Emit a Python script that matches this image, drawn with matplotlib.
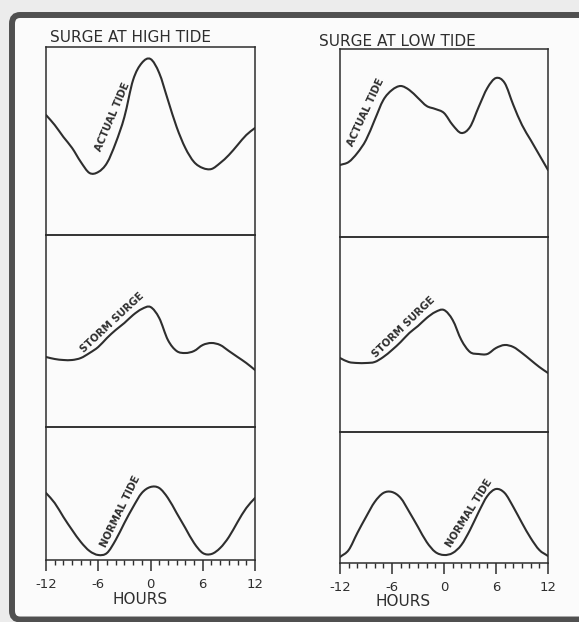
import matplotlib
matplotlib.use("Agg")
import matplotlib.pyplot as plt
import numpy as np
from matplotlib.patches import FancyBboxPatch, PathPatch
from matplotlib.path import Path

# hours relative to the time of peak surge
hours = list(range(-12, 13))

# left column: surge arriving at high tide (relative water level)
high_actual = [120, 110, 98, 87, 73, 62, 63, 72, 92, 118, 155, 172, 176,
               162, 135, 108, 87, 73, 67, 66, 72, 80, 90, 100, 107]
high_surge = [70, 68, 67, 67, 69, 74, 80, 89, 97, 104, 112, 118, 120,
              109, 87, 76, 74, 76, 82, 84, 82, 76, 70, 64, 57]
high_normal = [67, 57, 43, 30, 18, 9, 5, 7, 20, 37, 53, 67, 73,
               72, 62, 47, 32, 17, 7, 6, 12, 23, 38, 52, 62]

# right column: surge arriving at low tide
low_actual = [72, 75, 84, 97, 117, 137, 147, 151, 147, 139, 131, 128, 124,
              112, 104, 110, 130, 149, 159, 154, 132, 112, 97, 82, 67]
low_surge = [74, 70, 69, 69, 70, 75, 82, 90, 99, 106, 114, 120, 122,
             112, 92, 80, 78, 78, 84, 87, 85, 79, 72, 65, 59]
low_normal = [6, 13, 30, 46, 61, 70, 71, 65, 51, 36, 21, 11, 8,
              10, 18, 33, 51, 67, 74, 70, 56, 40, 25, 13, 7]

titles = ["SURGE AT HIGH TIDE", "SURGE AT LOW TIDE"]
tick_hours = [-12, -6, 0, 6, 12]
tick_labels = ["-12", "-6", "0", "6", "12"]

INK = "#2e2e2e"
W, H = 579, 622

plt.rcParams["font.family"] = ["DejaVu Sans"]


def px_box(x0, y0, x1, y1):
    """Pixel box (top-left origin) -> figure fraction rect."""
    return [x0 / W, (H - y1) / H, (x1 - x0) / W, (y1 - y0) / H]


def smooth_path(xs, ys):
    """Catmull-Rom style bezier path through the given points."""
    pts = np.column_stack([xs, ys]).astype(float)
    ext = np.vstack([2 * pts[0] - pts[1], pts, 2 * pts[-1] - pts[-2]])
    verts = [pts[0]]
    codes = [Path.MOVETO]
    for i in range(1, len(ext) - 2):
        p0, p1, p2, p3 = ext[i - 1], ext[i], ext[i + 1], ext[i + 2]
        verts += [p1 + (p2 - p0) / 6, p2 - (p3 - p1) / 6, p2]
        codes += [Path.CURVE4] * 3
    return Path(verts, codes)


def draw_panel(fig, box, values, ytop, label, label_at, angle, bottom=False):
    ax = fig.add_axes(px_box(*box))
    ax.set_facecolor("none")
    ax.set_zorder(2)
    ax.add_patch(PathPatch(smooth_path(hours, values), fill=False,
                           edgecolor=INK, lw=1.5, joinstyle="round",
                           capstyle="round"))
    ax.set_xlim(-12, 12)
    ax.set_ylim(0, ytop)
    ax.set_yticks([])
    for s in ax.spines.values():
        s.set_color(INK)
        s.set_linewidth(1.1)
    if bottom:
        ax.set_xticks(tick_hours)
        ax.set_xticklabels(tick_labels, fontsize=9.5, color=INK)
        ax.set_xticks(hours, minor=True)
        ax.tick_params(axis="x", which="major", direction="out", length=8,
                       width=1.1, color=INK, pad=5)
        ax.tick_params(axis="x", which="minor", direction="out", length=3.5,
                       width=1.0, color=INK)
    else:
        ax.set_xticks([])
    ax.text(label_at[0], label_at[1], label, rotation=angle, fontsize=7.3,
            fontweight="bold", color=INK, ha="center", va="center",
            rotation_mode="anchor")
    return ax


fig = plt.figure(figsize=(W / 100, H / 100), dpi=100, facecolor="#ececec")

frame = FancyBboxPatch((12 / W, 2.5 / H), 1.05, (H - 15) / H - 2.5 / H,
                       boxstyle="round,pad=0,rounding_size=0.014",
                       transform=fig.transFigure, facecolor="#fbfbfb",
                       edgecolor="#505050", linewidth=4.3, zorder=-5)
fig.add_artist(frame)

# left column
draw_panel(fig, (46, 47, 255, 235), high_actual, 188, "ACTUAL TIDE",
           (-4.4, 118), 67)
draw_panel(fig, (46, 235, 255, 427), high_surge, 192, "STORM SURGE",
           (-4.4, 104), 43)
draw_panel(fig, (46, 427, 255, 560), high_normal, 133, "NORMAL TIDE",
           (-3.5, 49), 64, bottom=True)

# right column
draw_panel(fig, (340, 49, 548, 237), low_actual, 188, "ACTUAL TIDE",
           (-9.0, 125), 65)
draw_panel(fig, (340, 237, 548, 432), low_surge, 195, "STORM SURGE",
           (-4.6, 105), 44)
draw_panel(fig, (340, 432, 548, 563), low_normal, 131, "NORMAL TIDE",
           (2.9, 50), 58, bottom=True)

fig.text(131 / W, 1 - 38 / H, titles[0], fontsize=11, color=INK,
         ha="center", va="center", zorder=3)
fig.text(397 / W, 1 - 41 / H, titles[1], fontsize=11, color=INK,
         ha="center", va="center", zorder=3)
fig.text(140 / W, 1 - 599 / H, "HOURS", fontsize=11, color=INK,
         ha="center", va="center", zorder=3)
fig.text(403 / W, 1 - 601 / H, "HOURS", fontsize=11, color=INK,
         ha="center", va="center", zorder=3)

fig.savefig("out.png", dpi=100, facecolor=fig.get_facecolor())
